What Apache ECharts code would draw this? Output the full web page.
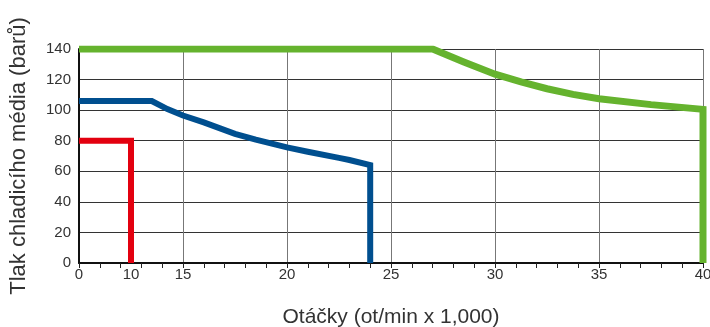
<!DOCTYPE html>
<html>
<head>
<meta charset="utf-8">
<script src="https://cdn.jsdelivr.net/npm/echarts@6/dist/echarts.min.js"></script>
<style>
  html, body { margin: 0; padding: 0; background: #fff; }
  #chart { width: 710px; height: 327px; }
</style>
</head>
<body>
<div id="chart"></div>
<script>
// otáčky (x 1000) a tlak (bar) pro tři křivky
const redX = [0, 10, 10]
const redY = [80, 80, 0]
const blueX = [0, 12, 13.5, 15, 16, 17.5, 18.5, 20, 21, 22.5, 23, 24, 24]
const blueY = [106, 106, 100.7, 96.5, 92, 84.5, 80.7, 75.6, 72.8, 68.8, 67.4, 64, 0]
const greenX = [0, 27, 28.5, 30, 31.25, 32.5, 33.75, 35, 37.5, 40, 40]
const greenY = [140, 140, 131.5, 123.5, 118.5, 114, 110.3, 107.5, 103.6, 100.5, 0]
const xTickLabels = [0, 10, 15, 20, 25, 30, 35, 40]

// osa x je v originálu zalomená: úsek 0-15 je stlačený (0-10 a 10-15 zabírají po půl dílku)
function toAxis(rpm) {
  if (rpm <= 10) return rpm * 0.25
  if (rpm <= 15) return 2.5 + (rpm - 10) * 0.5
  return rpm - 10
}
function fromAxis(u) {
  if (u <= 2.5) return u / 0.25
  if (u <= 5) return 10 + (u - 2.5) / 0.5
  return u + 10
}
function pairs(xs, ys) {
  return xs.map((x, i) => [toAxis(x), ys[i]])
}

const chart = echarts.init(document.getElementById('chart'))
const font = 'Liberation Sans, Arial, sans-serif'

chart.setOption({
  animation: false,
  grid: { left: 79, right: 7, top: 49, bottom: 64, outerBoundsMode: 'none' },
  xAxis: {
    type: 'value',
    min: 0,
    max: 30,
    interval: 5,
    name: 'Otáčky (ot/min x 1,000)',
    nameLocation: 'middle',
    nameGap: 44,
    nameTextStyle: { fontFamily: font, fontSize: 21, color: '#333' },
    axisLine: { show: true, lineStyle: { color: '#111', width: 2 } },
    axisTick: { show: true, length: 5, lineStyle: { color: '#222' } },
    minorTick: { show: true, splitNumber: 5, length: 5, lineStyle: { color: '#222' } },
    axisLabel: {
      customValues: xTickLabels.map(toAxis),
      formatter: v => String(Math.round(fromAxis(v))),
      fontFamily: font,
      fontSize: 15,
      color: '#333',
      margin: 4
    },
    splitLine: { show: true, lineStyle: { color: '#777', width: 1 } }
  },
  yAxis: {
    type: 'value',
    min: 0,
    max: 140,
    interval: 20,
    name: 'Tlak chladicího média (barů)',
    nameLocation: 'middle',
    nameGap: 49,
    nameTextStyle: { fontFamily: font, fontSize: 22, color: '#333' },
    axisLine: { show: true, lineStyle: { color: '#111', width: 2 } },
    axisTick: { show: false },
    axisLabel: { fontFamily: font, fontSize: 15, color: '#333', margin: 8 },
    splitLine: { show: true, lineStyle: { color: '#333', width: 1 } }
  },
  series: [
    {
      type: 'line',
      data: pairs(redX, redY),
      symbol: 'none',
      lineStyle: { color: '#e3000f', width: 6, join: 'miter', cap: 'butt' }
    },
    {
      type: 'line',
      data: pairs(blueX, blueY),
      symbol: 'none',
      lineStyle: { color: '#004f8f', width: 6, join: 'miter', cap: 'butt' }
    },
    {
      type: 'line',
      data: pairs(greenX, greenY),
      symbol: 'none',
      lineStyle: { color: '#65b32e', width: 7, join: 'miter', cap: 'butt' }
    }
  ]
})
</script>
</body>
</html>
